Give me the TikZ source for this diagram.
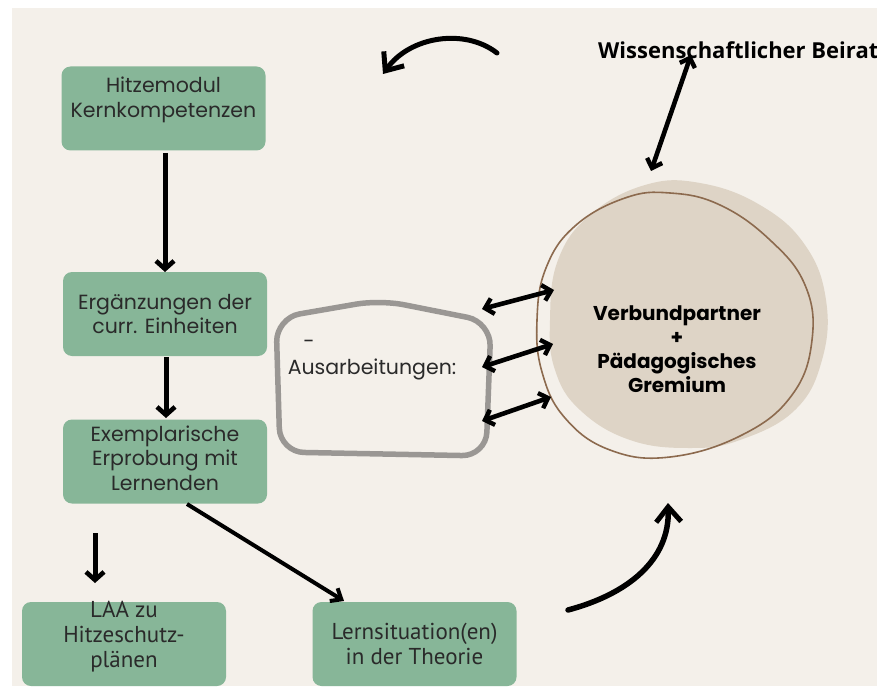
\documentclass[tikz,border=0pt]{standalone}
\usepackage{fontspec}
\setmainfont{Poppins}
\newfontfamily\ptsans{PT Sans}
\newfontfamily\opensans{Open Sans}
\usetikzlibrary{arrows.meta}
\definecolor{bgc}{HTML}{F4F0EA}
\definecolor{boxg}{HTML}{87B698}
\definecolor{blobf}{HTML}{DED4C6}
\definecolor{blobl}{HTML}{8C6A4E}
\definecolor{grayb}{HTML}{9A9794}
\definecolor{txt}{HTML}{2A2A2A}
\tikzset{
  gbox/.style={fill=boxg, rounded corners=9pt, minimum width=204pt, minimum height=84pt, inner sep=0pt},
  btxt/.style={align=center, text=txt, font=\fontsize{20.5}{24.5}\selectfont, inner sep=0pt},
  ctxt/.style={align=center, text=txt, font=\ptsans\fontsize{23}{25}\selectfont, inner sep=0pt},
  thick arrow/.style={line width=5pt, -{Straight Barb[length=8pt,width=18pt,line width=4.6pt]}},
  mid arrow/.style={line width=4pt, -{Straight Barb[length=9pt,width=15pt,line width=4pt]}},
  curve arrow/.style={line width=5pt, line cap=round, -{Straight Barb[length=15pt,width=25pt,line width=5pt]}},
  dbl arrow/.style={line width=4.6pt, {Straight Barb[length=8pt,width=16pt,line width=4.4pt]}-{Straight Barb[length=8pt,width=16pt,line width=4.4pt]}},
}
\begin{document}
\begin{tikzpicture}[x=1pt,y=-1pt]
\useasboundingbox (0,0) rectangle (877,687);
\fill[white] (0,0) rectangle (877,687);
\fill[bgc] (12,8) rectangle (877,686);

% green boxes
\node[gbox] (hitze) at (163.5,108.5) {};
\node[btxt] (hitzet) at (163.5,100) {Hitzemodul\\Kernkompetenzen};
\node[gbox] (erg) at (165,314) {};
\node[btxt] (ergt) at (165,314) {Ergänzungen der\\curr. Einheiten};
\node[gbox] (exem) at (165,461.5) {};
\node[btxt] (exemt) at (165,458) {Exemplarische\\Erprobung mit\\Lernenden};
\node[gbox] (laa) at (124,644) {};
\node[ctxt] (laat) at (124,637) {LAA zu\\Hitzeschutz-\\plänen};
\node[gbox] (lern) at (414.5,644) {};
\node[ctxt] (lernt) at (414.5,644) {Lernsituation(en)\\in der Theorie};

% vertical arrows
\coordinate (a1s) at (165,153);
\coordinate (a1e) at (165,272);
\draw[thick arrow] (a1s) -- (a1e);
\coordinate (a2s) at (166,357);
\coordinate (a2e) at (166,418);
\draw[thick arrow] (a2s) -- (a2e);
\coordinate (a3s) at (95,533);
\coordinate (a3e) at (95,583);
\draw[thick arrow] (a3s) -- (a3e);
\coordinate (d1s) at (187,504);
\coordinate (d1e) at (344,601);
\draw[mid arrow] (d1s) -- (d1e);

% blob
\fill[blobf] plot[smooth cycle, tension=0.7] coordinates {(550,320) (558,260) (590,215) (645,185) (700,183) (760,205) (805,245) (826,300) (822,360) (795,410) (740,440) (690,448) (630,440) (580,410) (555,370)};
\draw[blobl, line width=1.6pt] plot[smooth cycle, tension=0.7] coordinates {(537,320) (546,268) (575,226) (625,198) (670,193) (720,205) (770,240) (805,285) (812,340) (792,395) (742,435) (670,457) (610,450) (565,418) (542,372)};
\node[align=center, text=black, font=\fontseries{sb}\selectfont\fontsize{20}{24}\selectfont, inner sep=0pt] (verb) at (677,349) {Verbundpartner\\+\\Pädagogisches\\Gremium};

% gray box
\draw[grayb, line width=5.5pt, rounded corners=24pt] (276,318) -- (380,300) -- (491,322) -- (486,456) -- (280,452) -- cycle;
\node[text=txt, font=\fontsize{20.5}{24}\selectfont, inner sep=0pt] (dash) at (309,344) {-};
\node[text=txt, font=\fontsize{20.5}{24}\selectfont, inner sep=0pt] (ausa) at (372,369) {Ausarbeitungen:};

% double arrows
\coordinate (b1l) at (482,309);
\coordinate (b1r) at (554,290);
\draw[dbl arrow] (b1l) -- (b1r);
\coordinate (b2l) at (482,367);
\coordinate (b2r) at (553,344);
\draw[dbl arrow] (b2l) -- (b2r);
\coordinate (b3l) at (482,421);
\coordinate (b3r) at (551,397);
\draw[dbl arrow] (b3l) -- (b3r);

% Beirat
\node[font=\opensans\bfseries\fontsize{22}{24}\selectfont, anchor=west, inner sep=0pt] (beirat) at (598,50) {Wissenschaftlicher Beirat};
\coordinate (c1) at (691,55);
\coordinate (c2) at (651,171);
\draw[dbl arrow] (c1) -- (c2);

% curved arrows
\coordinate (t1) at (497,53);
\coordinate (t2) at (383,74);
\draw[curve arrow] (t1) .. controls (465,28) and (410,36) .. (t2);
\coordinate (u1) at (568,610);
\coordinate (u2) at (668,503);
\draw[curve arrow, line width=5.5pt] (u1) .. controls (628,594) and (670,560) .. (u2);
\end{tikzpicture}
\end{document}
